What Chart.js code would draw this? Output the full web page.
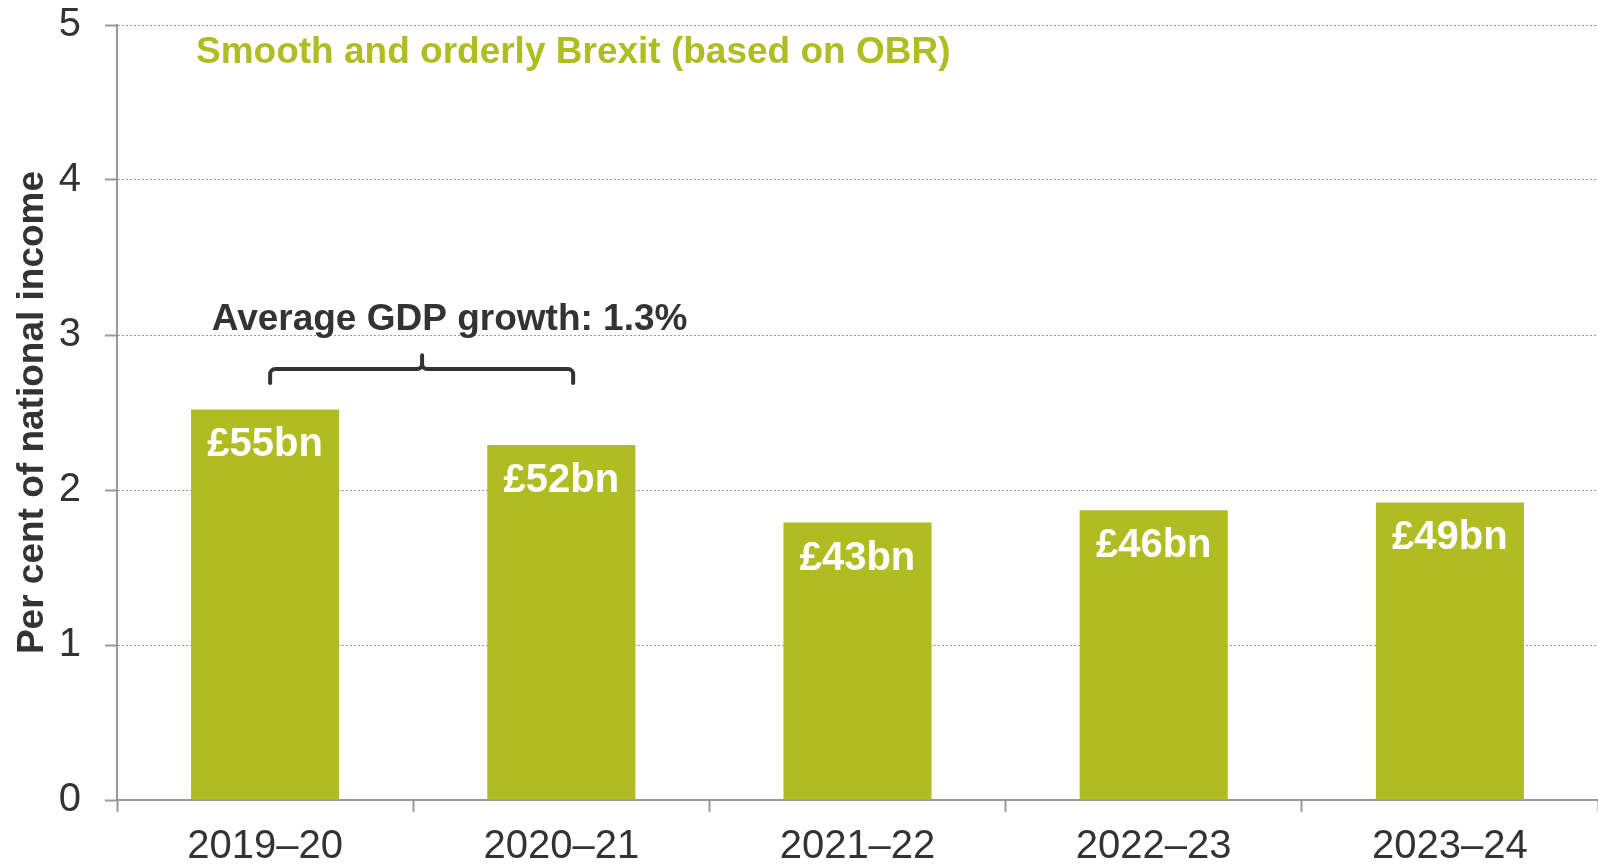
<!DOCTYPE html>
<html>
<head>
<meta charset="utf-8">
<script src="https://cdn.jsdelivr.net/npm/chart.js@4/dist/chart.umd.min.js"></script>
<style>
  html, body { margin: 0; padding: 0; background: #fff; }
</style>
</head>
<body>
<canvas id="chart" width="1598" height="865"></canvas>
<script>
// ── DATA ──────────────────────────────────────────────────────────────────────

const years = ["2019–20", "2020–21", "2021–22", "2022–23", "2023–24"];
const shareOfIncome = [2.52, 2.29, 1.79, 1.87, 1.92];
const cashLabels = ["£55bn", "£52bn", "£43bn", "£46bn", "£49bn"];
const yMin = 0;
const yMax = 5;
const yStep = 1;

const scenarioTitle = "Smooth and orderly Brexit (based on OBR)";
const growthNote = "Average GDP growth: 1.3%";

const FONT = "'Liberation Sans', Arial, Helvetica, sans-serif";
const GREEN = "#afbd22";
const DARK = "#333333";
const AXIS_GREY = "#999999";

// ── OVERLAY: scenario title, growth bracket, cash labels ─────────────────────

const overlayPlugin = {
  id: "overlay",
  afterDatasetsDraw(chart) {
    const { ctx } = chart;
    const x = chart.scales.x;
    const y = chart.scales.y;

    ctx.save();

    // cash values inside each bar
    ctx.fillStyle = "#ffffff";
    ctx.font = `bold 40px ${FONT}`;
    ctx.textAlign = "center";
    ctx.textBaseline = "middle";
    chart.getDatasetMeta(0).data.forEach((bar, i) => {
      ctx.fillText(cashLabels[i], bar.x, bar.y + 36);
    });

    // scenario title
    ctx.fillStyle = GREEN;
    ctx.font = `bold 37px ${FONT}`;
    ctx.textAlign = "left";
    ctx.fillText(scenarioTitle, chart.chartArea.left + 79, y.getPixelForValue(4.82));

    // growth note
    ctx.fillStyle = DARK;
    ctx.fillText(growthNote, x.getPixelForValue(-0.18), y.getPixelForValue(3.1));

    // bracket over the first two years
    const left = x.getPixelForValue(0.017);
    const right = x.getPixelForValue(1.04);
    const mid = x.getPixelForValue(0.53);
    const yEnd = y.getPixelForValue(2.69);
    const yBar = y.getPixelForValue(2.78);
    const yPeak = y.getPixelForValue(2.87);
    const r = 5;

    ctx.strokeStyle = DARK;
    ctx.lineWidth = 4;
    ctx.lineCap = "round";
    ctx.lineJoin = "round";
    ctx.beginPath();
    ctx.moveTo(left, yEnd);
    ctx.arcTo(left, yBar, left + r, yBar, r);
    ctx.lineTo(mid - r, yBar);
    ctx.arcTo(mid, yBar, mid, yBar - r, r);
    ctx.lineTo(mid, yPeak);
    ctx.moveTo(mid, yBar - r);
    ctx.arcTo(mid, yBar, mid + r, yBar, r);
    ctx.lineTo(right - r, yBar);
    ctx.arcTo(right, yBar, right, yEnd, r);
    ctx.lineTo(right, yEnd);
    ctx.stroke();

    ctx.restore();
  }
};

// ── CHART ─────────────────────────────────────────────────────────────────────

new Chart(document.getElementById("chart"), {
  type: "bar",
  data: {
    labels: years,
    datasets: [{
      data: shareOfIncome,
      backgroundColor: GREEN,
      borderWidth: 0,
      categoryPercentage: 1,
      barPercentage: 0.5
    }]
  },
  options: {
    responsive: false,
    animation: false,
    layout: { padding: { top: 25, right: 0, bottom: 0, left: 0 } },
    plugins: {
      legend: { display: false },
      tooltip: { enabled: false }
    },
    scales: {
      x: {
        grid: {
          display: true,
          drawOnChartArea: false,
          drawTicks: true,
          offset: true,
          tickLength: 12,
          tickColor: AXIS_GREY,
          tickWidth: 2
        },
        border: { display: true, color: AXIS_GREY, width: 2 },
        ticks: {
          color: DARK,
          padding: 11,
          font: { family: FONT, size: 40 }
        },
        afterFit: scale => { scale.height = 65; }
      },
      y: {
        min: yMin,
        max: yMax,
        ticks: {
          stepSize: yStep,
          color: DARK,
          padding: 24,
          font: { family: FONT, size: 40 }
        },
        grid: {
          color: AXIS_GREY,
          lineWidth: 1,
          tickBorderDash: [],
          tickLength: 12,
          tickColor: AXIS_GREY,
          tickWidth: 2
        },
        border: { display: true, color: AXIS_GREY, width: 2, dash: [2, 2] },
        title: {
          display: true,
          text: "Per cent of national income",
          color: DARK,
          padding: { top: 11, bottom: 0 },
          font: { family: FONT, size: 37, weight: "bold" }
        },
        afterFit: scale => {
          scale.width = 117;
          // the top label may overhang into the page margin
          scale.paddingTop = 0;
          scale.paddingBottom = 0;
        }
      }
    }
  },
  plugins: [overlayPlugin]
});
</script>
</body>
</html>
